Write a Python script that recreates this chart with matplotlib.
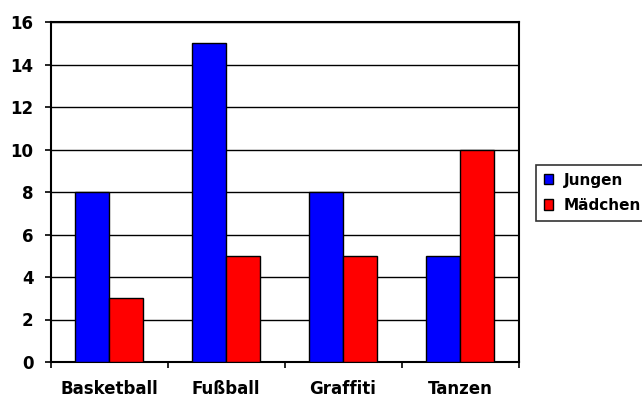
import matplotlib.pyplot as plt
import numpy as np

plt.rcParams['font.family'] = ['DejaVu Sans']
plt.rcParams['font.weight'] = 'bold'

sports = ["Basketball", "Fußball", "Graffiti", "Tanzen"]
jungen = [8, 15, 8, 5]
maedchen = [3, 5, 5, 10]

fig = plt.figure(figsize=(6.42, 3.98), dpi=100)
ax = fig.add_axes([50.5 / 642, 1 - 362 / 398, 468 / 642, 340 / 398])

x = np.arange(len(sports))
w = 0.29
ax.bar(x - w / 2, jungen, w, color='#0000ff', edgecolor='black', linewidth=1, label='Jungen', zorder=3)
ax.bar(x + w / 2, maedchen, w, color='#ff0000', edgecolor='black', linewidth=1, label='Mädchen', zorder=3)

ax.set_xlim(-0.5, len(sports) - 0.5)
ax.set_ylim(0, 16)
ax.set_yticks(range(0, 17, 2))
ax.yaxis.grid(True, color='black', linewidth=1, zorder=0)

# x ticks between categories, labels centred under each group
ax.set_xticks(np.arange(-0.5, len(sports), 1))
ax.set_xticklabels([])
ax.set_xticks(x, minor=True)
ax.set_xticklabels(sports, minor=True, fontsize=12, fontweight='bold')
ax.tick_params(axis='x', which='minor', length=0, pad=13)
ax.tick_params(axis='x', which='major', length=4.3, width=1.2, direction='out')
ax.tick_params(axis='y', length=4.3, width=1.2, direction='out', labelsize=12, pad=8)
for lab in ax.get_yticklabels():
    lab.set_fontweight('bold')

for s in ax.spines.values():
    s.set_linewidth(1.5)
    s.set_color('black')

leg = ax.legend(loc='upper left', bbox_to_anchor=(536 / 642, 1 - 165 / 398),
                bbox_transform=fig.transFigure, borderaxespad=0, frameon=True, fancybox=False,
                edgecolor='black', handlelength=0.6, handleheight=0.65,
                handletextpad=0.7, borderpad=0.5, labelspacing=0.67,
                prop={'weight': 'bold', 'size': 11})
leg.get_frame().set_linewidth(1.2)

fig.savefig('out.png', dpi=100)
